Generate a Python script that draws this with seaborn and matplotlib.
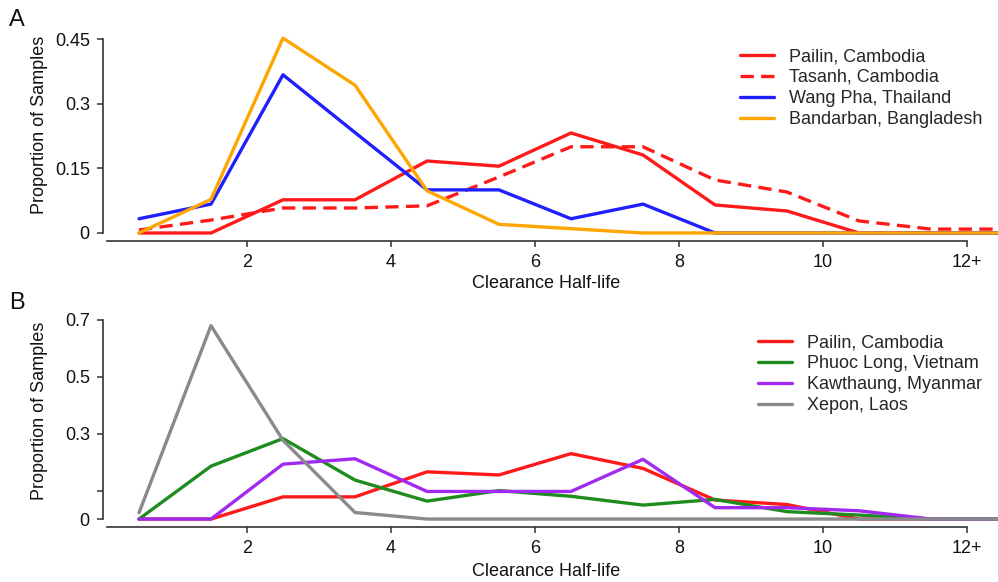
import numpy as np
import pandas as pd
import matplotlib
matplotlib.use("Agg")
import matplotlib.pyplot as plt
import seaborn as sns

## Data: proportion of samples per half-life bin (bin centres)
half_life = [0.5, 1.5, 2.5, 3.5, 4.5, 5.5, 6.5, 7.5, 8.5, 9.5, 10.5, 11.5, 12.5]
x_ticks = [2, 4, 6, 8, 10, 12]
x_tick_labels = ["2", "4", "6", "8", "10", "12+"]

# Panel A
pailin = [0, 0, 0.077, 0.077, 0.167, 0.155, 0.232, 0.181, 0.065, 0.051, 0, 0, 0]
tasanh = [0.007, 0.03, 0.058, 0.058, 0.063, 0.13, 0.2, 0.2, 0.123, 0.095, 0.028, 0.009, 0.009]
wang_pha = [0.033, 0.067, 0.367, 0.233, 0.1, 0.1, 0.033, 0.067, 0, 0, 0, 0, 0]
bandarban = [0, 0.078, 0.452, 0.343, 0.098, 0.02, 0.01, 0, 0, 0, 0, 0, 0]
a_names = ["Pailin, Cambodia", "Tasanh, Cambodia", "Wang Pha, Thailand", "Bandarban, Bangladesh"]
a_colors = ["#ff1a1a", "#ff1a1a", "#1f1fff", "#ffa500"]
a_dashed = [False, True, False, False]
a_yticks = [0, 0.15, 0.3, 0.45]
a_ylabels = ["0", "0.15", "0.3", "0.45"]

# Panel B
pailin_b = [0, 0, 0.078, 0.078, 0.166, 0.155, 0.23, 0.178, 0.067, 0.051, 0, 0, 0]
phuoc_long = [0, 0.186, 0.283, 0.137, 0.063, 0.1, 0.08, 0.049, 0.069, 0.026, 0.014, 0, 0]
kawthaung = [0, 0, 0.193, 0.212, 0.097, 0.097, 0.097, 0.21, 0.04, 0.04, 0.029, 0, 0]
xepon = [0.022, 0.68, 0.277, 0.023, 0, 0, 0, 0, 0, 0, 0, 0, 0]
b_names = ["Pailin, Cambodia", "Phuoc Long, Vietnam", "Kawthaung, Myanmar", "Xepon, Laos"]
b_colors = ["#ff1a1a", "#1f8c1f", "#a22af0", "#8a8a8a"]
b_yticks = [0, 0.1, 0.3, 0.5, 0.7]
b_ylabels = ["0", "", "0.3", "0.5", "0.7"]

sns.set_style("ticks")
plt.rcParams["font.family"] = ["Liberation Sans", "DejaVu Sans"]

W, H = 998, 582
FS = 13
fig = plt.figure(figsize=(W / 100, H / 100), dpi=100)

# axes placed in pixels so that x=0 sits at px 103 and 72 px per unit
def px_axes(bottom_px, top_px):
    left, right = 103, 103 + 12.98 * 72
    return fig.add_axes([left / W, 1 - bottom_px / H, (right - left) / W, (bottom_px - top_px) / H])

axA = px_axes(241, 30.4)
axB = px_axes(527, 318)

dfA = pd.DataFrame({"x": half_life * 4,
                    "y": pailin + tasanh + wang_pha + bandarban,
                    "site": np.repeat(a_names, len(half_life))})
dfB = pd.DataFrame({"x": half_life * 4,
                    "y": pailin_b + phuoc_long + kawthaung + xepon,
                    "site": np.repeat(b_names, len(half_life))})

sns.lineplot(data=dfA, x="x", y="y", hue="site", style="site", hue_order=a_names, style_order=a_names,
             palette=dict(zip(a_names, a_colors)),
             dashes={n: ((4, 2.2) if d else "") for n, d in zip(a_names, a_dashed)},
             linewidth=2.4, ax=axA, sort=False, estimator=None)
sns.lineplot(data=dfB, x="x", y="y", hue="site", hue_order=b_names,
             palette=dict(zip(b_names, b_colors)),
             linewidth=2.4, ax=axB, sort=False, estimator=None)

def style_axis(ax, ylim, yticks, ylabels, ytop):
    ax.set_xlim(0, 12.98)
    ax.set_ylim(*ylim)
    ax.set_xticks(x_ticks)
    ax.set_xticklabels(x_tick_labels)
    ax.set_yticks(yticks)
    ax.set_yticklabels(ylabels)
    for s in ["top", "right"]:
        ax.spines[s].set_visible(False)
    ax.spines["left"].set_bounds(0, ytop)
    ax.spines["bottom"].set_bounds(0.06, 12)
    for s in ["left", "bottom"]:
        ax.spines[s].set_color("#333333")
        ax.spines[s].set_linewidth(1.2)
    ax.tick_params(axis="both", length=4.5, width=1.1, color="#333333", labelsize=FS, labelcolor="#111111")
    ax.tick_params(axis="x", pad=5)
    ax.tick_params(axis="y", pad=5)
    ax.set_xlabel("Clearance Half-life", fontsize=FS, color="#111111", va="center")
    ax.set_ylabel("")
    ax.grid(False)

style_axis(axA, (-0.0186, 0.47), a_yticks, a_ylabels, 0.45)
style_axis(axB, (-0.028, 0.707), b_yticks, b_ylabels, 0.7)
axA.xaxis.set_label_coords(546 / W, 1 - 284 / H, transform=fig.transFigure)
axB.xaxis.set_label_coords(546 / W, 1 - 572 / H, transform=fig.transFigure)

fig.text(40 / W, 1 - 125 / H, "Proportion of Samples", rotation=90, ha="center", va="center", fontsize=FS, color="#111111")
fig.text(40 / W, 1 - 411 / H, "Proportion of Samples", rotation=90, ha="center", va="center", fontsize=FS, color="#111111")
fig.text(9 / W, 1 - 20 / H, "A", ha="left", va="center", fontsize=17, color="#111111")
fig.text(9 / W, 1 - 303 / H, "B", ha="left", va="center", fontsize=17, color="#111111")

legA = axA.legend(frameon=False, loc="upper left", bbox_to_anchor=(740 / W, 1 - 48 / H),
                  bbox_transform=fig.transFigure, fontsize=FS, handlelength=1.9,
                  handletextpad=0.8, labelspacing=0.22, borderpad=0, borderaxespad=0)
legB = axB.legend(frameon=False, loc="upper left", bbox_to_anchor=(758 / W, 1 - 334 / H),
                  bbox_transform=fig.transFigure, fontsize=FS, handlelength=1.9,
                  handletextpad=0.8, labelspacing=0.22, borderpad=0, borderaxespad=0)
for leg in (legA, legB):
    for line in leg.get_lines():
        line.set_linewidth(2.4)

fig.savefig("out.png", dpi=100)
